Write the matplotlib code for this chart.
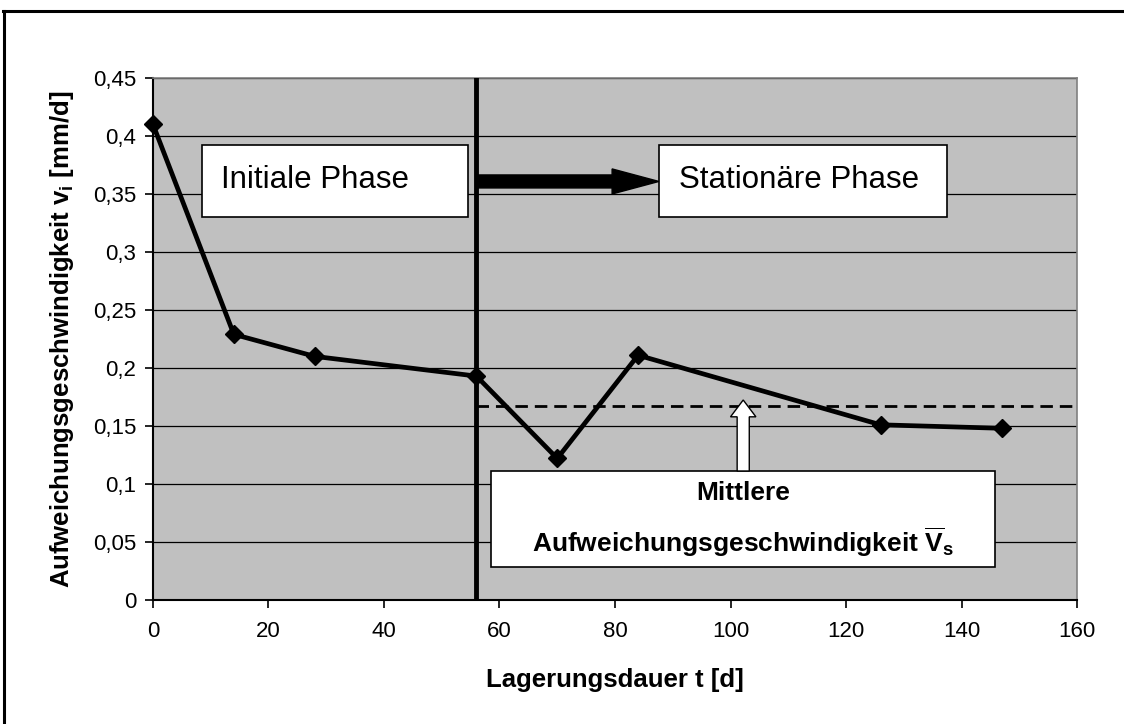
import numpy as np
import matplotlib
matplotlib.use('Agg')
import matplotlib.pyplot as plt
from matplotlib.patches import Rectangle, FancyArrow
from matplotlib.lines import Line2D

plt.rcParams['font.family'] = ['Liberation Sans', 'DejaVu Sans']
plt.rcParams['mathtext.fontset'] = 'custom'
plt.rcParams['mathtext.rm'] = 'Liberation Sans:bold'
plt.rcParams['mathtext.bf'] = 'Liberation Sans:bold'
plt.rcParams['mathtext.it'] = 'Liberation Sans:bold'

# data
days = [0, 14, 28, 56, 70, 84, 126, 147]
speed = [0.41, 0.229, 0.21, 0.193, 0.122, 0.211, 0.151, 0.148]
phase_split = 56        # start of stationary phase [d]
v_mean = 0.167          # mean softening speed, stationary phase

x_ticks = [0, 20, 40, 60, 80, 100, 120, 140, 160]
y_ticks = [0, 0.05, 0.1, 0.15, 0.2, 0.25, 0.3, 0.35, 0.4, 0.45]
y_tick_labels = ['0', '0,05', '0,1', '0,15', '0,2', '0,25', '0,3', '0,35', '0,4', '0,45']

x_label = 'Lagerungsdauer t [d]'
y_label = r'Aufweichungsgeschwindigkeit v$_\mathrm{i}$ [mm/d]'
txt_initial = 'Initiale Phase'
txt_stationary = 'Stationäre Phase'
txt_mean = 'Mittlere\nAufweichungsgeschwindigkeit ' + r'$\overline{\mathbf{V}}_\mathbf{s}$'

fig = plt.figure(figsize=(11.24, 7.24), dpi=100)
ax = fig.add_axes([0.1361, 0.1713, 0.8221, 0.7210])
ax.set_facecolor('#c0c0c0')

ax.set_xlim(0, 160)
ax.set_ylim(0, 0.45)
ax.set_xticks(x_ticks)
ax.set_yticks(y_ticks)
ax.set_yticklabels(y_tick_labels)
ax.tick_params(axis='both', direction='out', length=6, width=1.2, labelsize=16, color='black')
ax.tick_params(axis='y', pad=6)
ax.tick_params(axis='x', pad=9)

ax.yaxis.grid(True, color='black', lw=0.9)
ax.set_axisbelow(True)
for s in ['top', 'right']:
    ax.spines[s].set_color('#808080')
    ax.spines[s].set_linewidth(1.2)
for s in ['left', 'bottom']:
    ax.spines[s].set_color('black')
    ax.spines[s].set_linewidth(1.5)

ax.set_xlabel(x_label, fontsize=18.5, fontweight='bold', labelpad=19)
ax.set_ylabel(y_label, fontsize=18.5, fontweight='bold', labelpad=12)

# phase boundary and mean line
ax.axvline(phase_split, color='black', lw=3.5, zorder=4)
ax.plot([phase_split, 160], [v_mean, v_mean], color='black', lw=2,
        linestyle=(0, (4.5, 2.5)), zorder=3)

# measured series
ax.plot(days, speed, color='black', lw=3.4, marker='D', markersize=9.5,
        zorder=5, clip_on=False)

# text boxes
ax.add_patch(Rectangle((8.5, 0.3305), 46.0, 0.062, facecolor='white',
                       edgecolor='black', lw=1.2, zorder=6))
ax.text(11.8, 0.355, txt_initial, fontsize=22.5, ha='left', va='baseline', zorder=7)

ax.add_patch(Rectangle((87.6, 0.3305), 49.9, 0.062, facecolor='white',
                       edgecolor='black', lw=1.2, zorder=6))
ax.text(91.1, 0.355, txt_stationary, fontsize=22.5, ha='left', va='baseline', zorder=7)

ax.add_patch(Rectangle((58.5, 0.0284), 87.3, 0.0828, facecolor='white',
                       edgecolor='black', lw=1.2, zorder=6))
ax.text(102.2, 0.0690, txt_mean, fontsize=19, fontweight='bold', ha='center',
        va='center', linespacing=1.75, zorder=7)

# arrow into stationary phase
ax.add_patch(FancyArrow(phase_split, 0.3608, 87.6 - phase_split, 0, width=0.0112,
                        head_width=0.0216, head_length=8.1, length_includes_head=True,
                        color='black', zorder=6))
# arrow from label box to mean line
ax.add_patch(FancyArrow(102.2, 0.1112, 0, 0.1724 - 0.1112, width=2.1,
                        head_width=4.4, head_length=0.0145, length_includes_head=True,
                        facecolor='white', edgecolor='black', lw=1.0, zorder=6))

# outer frame (top and left edges visible)
fig.add_artist(Line2D([3 / 1124, 1.0], [1 - 11 / 724, 1 - 11 / 724],
                      transform=fig.transFigure, color='black', lw=2.2))
fig.add_artist(Line2D([4 / 1124, 4 / 1124], [0.0, 1 - 11 / 724],
                      transform=fig.transFigure, color='black', lw=2.2))

fig.savefig('out.png', dpi=100, facecolor='white')
